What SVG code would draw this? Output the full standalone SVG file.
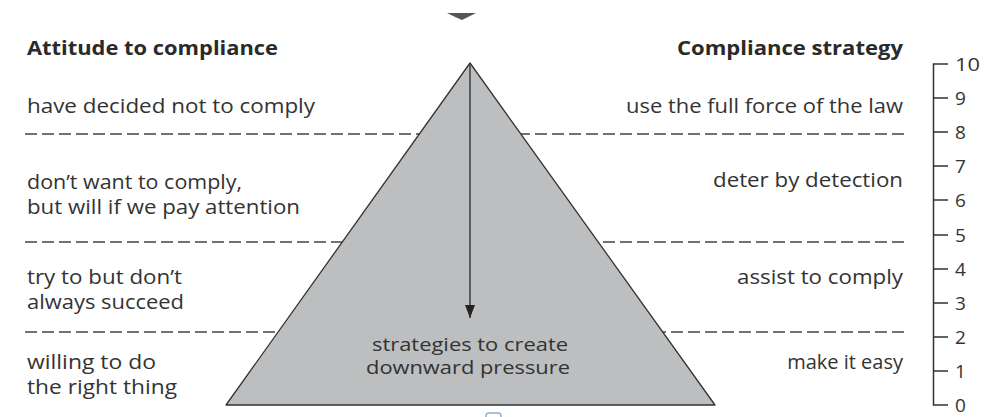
<svg xmlns="http://www.w3.org/2000/svg" width="988" height="417" viewBox="0 0 988 417">
<style>
  text { font-family: "Open Sans", "Liberation Sans", sans-serif; fill: #333; }
  .t { font-size: 20px; font-weight: bold; fill: #2a2a2a; }
  .l { font-size: 20px; }
  .c { font-size: 18px; }
  .n { font-size: 19px; }
  .dash { stroke: #444; stroke-width: 1.3; stroke-dasharray: 12 5; fill: none; }
  .rul { stroke: #333; stroke-width: 1.5; fill: none; }
</style>
<defs>
  <marker id="ah" markerWidth="14" markerHeight="10" refX="13" refY="5" orient="auto" markerUnits="userSpaceOnUse" viewBox="0 0 14 10">
    <path d="M0,0 L13,5 L0,10 Z" fill="#222"/>
  </marker>
</defs>
<rect width="988" height="417" fill="#fff"/>

<!-- top artifact chevron -->
<path d="M447,13 L476,13 Q468,17 462,20 Q455,17 447,13 Z" fill="#555"/>

<g id="dividers">
  <line class="dash" x1="25" y1="134" x2="905" y2="134"/>
  <line class="dash" x1="25" y1="242" x2="905" y2="242"/>
  <line class="dash" x1="25" y1="332" x2="905" y2="332"/>
</g>

<g id="pyramid">
  <polygon points="470,63 226,405 715,405" fill="#bdbebf" stroke="#333" stroke-width="1.3" stroke-linejoin="round"/>
  <text class="c" x="372" y="351" textLength="196" lengthAdjust="spacingAndGlyphs">strategies to create</text>
  <text class="c" x="366" y="374" textLength="204" lengthAdjust="spacingAndGlyphs">downward pressure</text>
</g>

<g id="connectors">
  <line x1="470" y1="64" x2="470" y2="318" stroke="#444" stroke-width="1.6" marker-end="url(#ah)"/>
</g>

<!-- bottom artifact -->
<rect x="486" y="413" width="15" height="8" rx="3" fill="none" stroke="#8fb0d0" stroke-width="1.5"/>

<g id="attitude">
  <text class="t" x="27" y="55" textLength="251" lengthAdjust="spacingAndGlyphs">Attitude to compliance</text>
  <text class="l" x="27" y="113" textLength="288" lengthAdjust="spacingAndGlyphs">have decided not to comply</text>
  <text class="l" x="27" y="189" textLength="215" lengthAdjust="spacingAndGlyphs">don’t want to comply,</text>
  <text class="l" x="27" y="214" textLength="273" lengthAdjust="spacingAndGlyphs">but will if we pay attention</text>
  <text class="l" x="27" y="284" textLength="155" lengthAdjust="spacingAndGlyphs">try to but don’t</text>
  <text class="l" x="27" y="309" textLength="157" lengthAdjust="spacingAndGlyphs">always succeed</text>
  <text class="l" x="27" y="369" textLength="129" lengthAdjust="spacingAndGlyphs">willing to do</text>
  <text class="l" x="27" y="394" textLength="150" lengthAdjust="spacingAndGlyphs">the right thing</text>
</g>

<g id="strategy">
  <text class="t" x="677" y="55" textLength="226" lengthAdjust="spacingAndGlyphs">Compliance strategy</text>
  <text class="l" x="626" y="113" textLength="277" lengthAdjust="spacingAndGlyphs">use the full force of the law</text>
  <text class="l" x="713" y="187" textLength="190" lengthAdjust="spacingAndGlyphs">deter by detection</text>
  <text class="l" x="737" y="284" textLength="166" lengthAdjust="spacingAndGlyphs">assist to comply</text>
  <text class="l" x="903" y="369" text-anchor="end">make it easy</text>
</g>

<g id="scale">
  <path class="rul" d="M948,64 H933.5 V405 H948"/>
  <path class="rul" d="M933.5,98 H948 M933.5,132 H948 M933.5,166 H948 M933.5,200 H948 M933.5,235 H948 M933.5,269 H948 M933.5,303 H948 M933.5,337 H948 M933.5,371 H948"/>
  <text class="n" x="955" y="71" textLength="25" lengthAdjust="spacingAndGlyphs">10</text>
  <text class="n" x="955" y="105">9</text>
  <text class="n" x="955" y="139">8</text>
  <text class="n" x="955" y="173">7</text>
  <text class="n" x="955" y="207">6</text>
  <text class="n" x="955" y="242">5</text>
  <text class="n" x="955" y="276">4</text>
  <text class="n" x="955" y="310">3</text>
  <text class="n" x="955" y="344">2</text>
  <text class="n" x="955" y="378">1</text>
  <text class="n" x="955" y="412">0</text>
</g>
</svg>
